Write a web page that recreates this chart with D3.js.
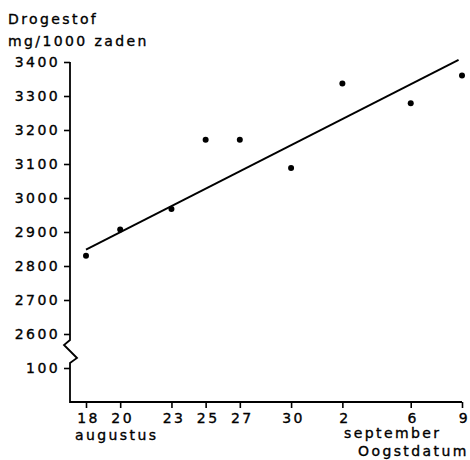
<!DOCTYPE html>
<html>
<head>
<meta charset="utf-8">
<script src="https://cdn.jsdelivr.net/npm/d3@7"></script>
<style>
  body { margin: 0; background: #fff; }
  svg text { font-family: "DejaVu Sans", sans-serif; font-size: 14px; letter-spacing: 2.4px; fill: #000; stroke: #000; stroke-width: 0.35px; }
</style>
</head>
<body>
<div id="grafica"></div>
<script>
// oogstdata (dagen na 18 augustus) en drogestof mg/1000 zaden
dagen = [0, 2, 5, 7, 9, 12, 15, 19, 22]
drogestof = [2830, 2907, 2968, 3171, 3171, 3088, 3337, 3279, 3360]
// getekende regressielijn: begin- en eindpunt
lijnDagen = [0, 21.8]
lijnWaarden = [2848, 3406]
// as labels
tickDagen = [0, 2, 5, 7, 9, 12, 15, 19, 22]
tickLabels = ['18', '20', '23', '25', '27', '30', '2', '6', '9']
yTicks = [2600, 2700, 2800, 2900, 3000, 3100, 3200, 3300, 3400]
yTicksLaag = [100]

function graficar() {
    svg = d3.select('#grafica')
        .append('svg')
        .attr('width', 470)
        .attr('height', 460)

    x = d3.scaleLinear().domain([0, 22]).range([86, 462])
    y = d3.scaleLinear().domain([2600, 3400]).range([334, 62])
    yLaag = d3.scaleLinear().domain([0, 100]).range([402, 368])

    // y as, bovenste deel
    gy = svg.append('g')
        .attr('transform', 'translate(70,0)')
        .call(d3.axisLeft(y).tickValues(yTicks).tickSize(6).tickPadding(4).tickFormat(d3.format('d')))
    gy.select('.domain').remove()

    // y as, onderste deel (100)
    gy2 = svg.append('g')
        .attr('transform', 'translate(70,0)')
        .call(d3.axisLeft(yLaag).tickValues(yTicksLaag).tickSize(6).tickPadding(4))
    gy2.select('.domain').remove()

    svg.selectAll('.tick line').attr('stroke', '#000').attr('stroke-width', 1.6)
    svg.selectAll('.tick text').style('font-size', '14px')

    // aslijn met onderbreking
    svg.append('path')
        .attr('d', 'M70,' + y(3400) + 'L70,340L64,345L77,358L70,363L70,' + yLaag(0) + 'L' + x(22) + ',' + yLaag(0))
        .attr('fill', 'none')
        .attr('stroke', '#000')
        .attr('stroke-width', 1.8)

    // x as
    gx = svg.append('g')
        .attr('transform', 'translate(0,' + yLaag(0) + ')')
        .call(d3.axisBottom(x).tickValues(tickDagen).tickSize(6).tickPadding(5)
            .tickFormat(function (d, i) { return tickLabels[i] }))
    gx.select('.domain').remove()
    gx.selectAll('.tick line').attr('stroke', '#000').attr('stroke-width', 1.6)
    gx.selectAll('.tick text').attr('dx', '2px').style('font-size', '14px')

    // regressielijn
    svg.append('line')
        .attr('x1', x(lijnDagen[0])).attr('y1', y(lijnWaarden[0]))
        .attr('x2', x(lijnDagen[1])).attr('y2', y(lijnWaarden[1]))
        .attr('stroke', '#000')
        .attr('stroke-width', 1.9)

    // punten
    svg.selectAll('circle.punt')
        .data(dagen)
        .enter()
        .append('circle')
        .attr('class', 'punt')
        .attr('cx', function (d) { return x(d) })
        .attr('cy', function (d, i) { return y(drogestof[i]) })
        .attr('r', 3)
        .attr('fill', '#000')

    // teksten
    svg.append('text').attr('x', 8).attr('y', 24).text('Drogestof')
    svg.append('text').attr('x', 8).attr('y', 46).text('mg/1000 zaden')
    svg.append('text').attr('x', 75).attr('y', 440).text('augustus')
    svg.append('text').attr('x', 344).attr('y', 438).text('september')
    svg.append('text').attr('x', 358).attr('y', 456).text('Oogstdatum')
}
graficar()
</script>
</body>
</html>
